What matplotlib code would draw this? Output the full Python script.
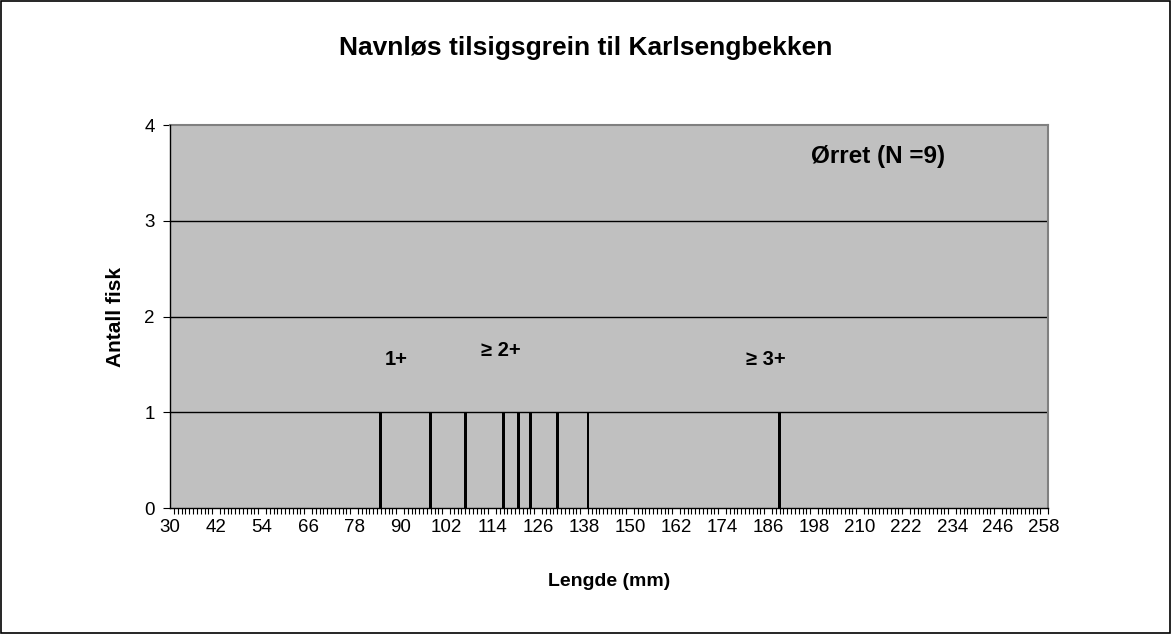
import numpy as np
import matplotlib
matplotlib.use("Agg")
import matplotlib.pyplot as plt
import matplotlib.ticker as mticker

plt.rcParams["font.family"] = ["Liberation Sans", "DejaVu Sans"]

# fish lengths (mm) and number of fish at each length
lengths = [85, 98, 107, 117, 121, 124, 131, 139, 189]
counts = [1, 1, 1, 1, 1, 1, 1, 1, 1]
first_cat, last_cat = 30, 259
tick_labels = list(range(30, 259, 12))

# age group labels: (text, x, y baseline)
age_labels = [("1+", 89.1, 1.49), ("≥ 2+", 116.3, 1.59), ("≥ 3+", 185.3, 1.49)]

fig = plt.figure(figsize=(11.72, 6.34), dpi=100)
fig.patch.set_facecolor("white")
fig.patches.append(plt.Rectangle((0.001, 0.002), 0.997, 0.996, transform=fig.transFigure,
                                 fill=False, edgecolor="black", linewidth=1.2))

ax = fig.add_axes([0.1451, 0.1987, 0.7491, 0.604])
ax.set_facecolor("#C0C0C0")

ax.bar(lengths, counts, width=0.75, color="black", zorder=3)

ax.set_xlim(first_cat, last_cat)
ax.set_ylim(0, 4)
ax.set_yticks([0, 1, 2, 3, 4])
ax.set_xticks(tick_labels)
ax.xaxis.set_minor_locator(mticker.FixedLocator(np.arange(first_cat, last_cat + 1, 1)))
ax.tick_params(axis="x", which="major", length=0, labelsize=13.5, pad=8)
ax.tick_params(axis="x", which="minor", length=4, width=0.8, direction="out")
ax.tick_params(axis="y", length=5, width=0.8, labelsize=13.5, pad=6)

for y in [1, 2, 3]:
    ax.axhline(y, color="black", linewidth=1, zorder=2)

for side in ["top", "right"]:
    ax.spines[side].set_color("#808080")
    ax.spines[side].set_linewidth(1.5)
for side in ["left", "bottom"]:
    ax.spines[side].set_color("black")
    ax.spines[side].set_linewidth(1)
    ax.spines[side].set_zorder(4)

for txt, x, y in age_labels:
    ax.text(x, y, txt, ha="center", va="baseline", fontsize=14.5, fontweight="bold", zorder=5)

ax.text(214.8, 3.60, "Ørret (N =9)", ha="center", va="baseline", fontsize=17.5, fontweight="bold")

ax.set_xlabel("Lengde (mm)", fontsize=14, fontweight="bold", va="center")
ax.xaxis.set_label_coords(0.5, -0.193)
ax.set_ylabel("Antall fisk", fontsize=15, fontweight="bold", va="center")
ax.yaxis.set_label_coords(-0.0626, 0.5)

fig.text(0.5, 0.924, "Navnløs tilsigsgrein til Karlsengbekken", ha="center", va="center",
         fontsize=19, fontweight="bold")

fig.savefig("out.png", dpi=100)
